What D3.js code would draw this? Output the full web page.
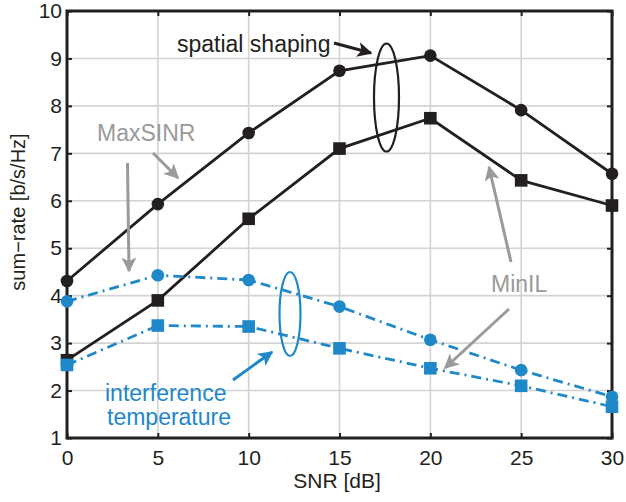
<!DOCTYPE html>
<html>
<head>
<meta charset="utf-8">
<script src="https://cdn.jsdelivr.net/npm/d3@7"></script>
<style>
  body { margin: 0; background: #fff; }
  text { font-family: Arial, "Liberation Sans", sans-serif; }
</style>
</head>
<body>
<div id="chart"></div>
<script>
// Data
const snr = [0, 5, 10, 15, 20, 25, 30];
const spatialCircle = [4.31, 5.93, 7.43, 8.74, 9.06, 7.91, 6.57];
const spatialSquare = [2.64, 3.90, 5.62, 7.10, 7.74, 6.43, 5.90];
const interfCircle = [3.88, 4.43, 4.33, 3.77, 3.07, 2.43, 1.87];
const interfSquare = [2.54, 3.37, 3.35, 2.89, 2.47, 2.10, 1.66];
const xTicks = [0, 5, 10, 15, 20, 25, 30];
const yTicks = [1, 2, 3, 4, 5, 6, 7, 8, 9, 10];

const width = 626;
const height = 502;
const margin = { top: 11, right: 14, bottom: 64, left: 67 };

const black = "#231f20";
const blue = "#1f88c9";
const gray = "#9a9a9a";

const svg = d3.select("#chart").append("svg")
    .attr("width", width)
    .attr("height", height);

const x = d3.scaleLinear().domain([0, 30]).range([margin.left, width - margin.right]);
const y = d3.scaleLinear().domain([1, 10]).range([height - margin.bottom, margin.top]);

// arrow markers
const defs = svg.append("defs");
function marker(id, color) {
    defs.append("marker")
        .attr("id", id)
        .attr("viewBox", "0 0 10 10")
        .attr("refX", 9).attr("refY", 5)
        .attr("markerWidth", 5).attr("markerHeight", 5)
        .attr("markerUnits", "strokeWidth")
        .attr("orient", "auto")
        .append("path")
        .attr("d", "M0,0 L10,5 L0,10 L2.5,5 Z")
        .attr("fill", color);
}
marker("arrBlack", black);
marker("arrBlue", blue);
marker("arrGray", gray);

// grid
const grid = svg.append("g");
grid.selectAll(".gx").data(xTicks).join("line")
    .attr("x1", d => x(d)).attr("x2", d => x(d))
    .attr("y1", y(1)).attr("y2", y(10))
    .attr("stroke", "#d3d3d3").attr("stroke-width", 1.6);
grid.selectAll(".gy").data(yTicks).join("line")
    .attr("x1", x(0)).attr("x2", x(30))
    .attr("y1", d => y(d)).attr("y2", d => y(d))
    .attr("stroke", "#d3d3d3").attr("stroke-width", 1.6);

// axes
svg.append("g")
    .attr("transform", `translate(0,${y(1)})`)
    .call(d3.axisBottom(x).tickValues(xTicks).tickSize(-5).tickPadding(12));
svg.append("g")
    .attr("transform", `translate(${x(0)},0)`)
    .call(d3.axisLeft(y).tickValues(yTicks).tickSize(-5).tickPadding(5));
svg.append("g")
    .attr("transform", `translate(0,${y(10)})`)
    .call(d3.axisTop(x).tickValues(xTicks).tickSize(-5).tickFormat(""));
svg.append("g")
    .attr("transform", `translate(${x(30)},0)`)
    .call(d3.axisRight(y).tickValues(yTicks).tickSize(-5).tickFormat(""));

svg.selectAll(".domain").remove();
svg.selectAll(".tick line").attr("stroke", black).attr("stroke-width", 2);
svg.selectAll(".tick text").attr("font-size", 21).attr("fill", black);

// frame
svg.append("rect")
    .attr("x", x(0)).attr("y", y(10))
    .attr("width", x(30) - x(0)).attr("height", y(1) - y(10))
    .attr("fill", "none").attr("stroke", black).attr("stroke-width", 3);

// axis labels
svg.append("text")
    .attr("x", 337).attr("y", 488)
    .attr("text-anchor", "middle").attr("font-size", 21).attr("fill", black)
    .text("SNR [dB]");
svg.append("text")
    .attr("transform", `translate(25,212) rotate(-90)`)
    .attr("text-anchor", "middle").attr("font-size", 20).attr("fill", black)
    .text("sum\u2212rate [b/s/Hz]");

// series
const series = [
    { vals: spatialCircle, color: black, shape: "circle", dash: null },
    { vals: spatialSquare, color: black, shape: "square", dash: null },
    { vals: interfCircle, color: blue, shape: "circle", dash: "10,5,2,5" },
    { vals: interfSquare, color: blue, shape: "square", dash: "10,5,2,5" }
];
const line = d3.line().x((d, i) => x(snr[i])).y(d => y(d));

series.forEach(s => {
    svg.append("path")
        .datum(s.vals)
        .attr("d", line)
        .attr("fill", "none")
        .attr("stroke", s.color)
        .attr("stroke-width", 2.8)
        .attr("stroke-dasharray", s.dash);
    if (s.shape === "circle") {
        svg.selectAll(null).data(s.vals).join("circle")
            .attr("cx", (d, i) => x(snr[i])).attr("cy", d => y(d))
            .attr("r", 6.3).attr("fill", s.color);
    } else {
        svg.selectAll(null).data(s.vals).join("rect")
            .attr("x", (d, i) => x(snr[i]) - 6.3).attr("y", d => y(d) - 6.3)
            .attr("width", 12.6).attr("height", 12.6).attr("fill", s.color);
    }
});

// annotations
function arrow(x1, y1, x2, y2, color, id) {
    svg.append("line")
        .attr("x1", x1).attr("y1", y1).attr("x2", x2).attr("y2", y2)
        .attr("stroke", color).attr("stroke-width", 3)
        .attr("marker-end", `url(#${id})`);
}

svg.append("text")
    .attr("x", 177).attr("y", 52).attr("font-size", 23).attr("fill", black)
    .text("spatial shaping");
arrow(334, 43, 371, 53, black, "arrBlack");
svg.append("ellipse")
    .attr("cx", 386.5).attr("cy", 97.5).attr("rx", 12.5).attr("ry", 54)
    .attr("fill", "none").attr("stroke", black).attr("stroke-width", 2.2);

svg.append("text")
    .attr("x", 97).attr("y", 141).attr("font-size", 23).attr("fill", gray)
    .text("MaxSINR");
arrow(153, 153, 178, 178, gray, "arrGray");
arrow(127.5, 163, 129, 271, gray, "arrGray");

svg.append("text")
    .attr("x", 491).attr("y", 292).attr("font-size", 23).attr("fill", gray)
    .text("MinIL");
arrow(511, 262, 489, 167, gray, "arrGray");
arrow(509, 309, 445, 368, gray, "arrGray");

svg.append("ellipse")
    .attr("cx", 290).attr("cy", 314).attr("rx", 10.5).attr("ry", 42)
    .attr("fill", "none").attr("stroke", blue).attr("stroke-width", 2.2);
arrow(233, 380, 272, 352, blue, "arrBlue");
svg.append("text")
    .attr("x", 105).attr("y", 401).attr("font-size", 23).attr("fill", blue)
    .text("interference");
svg.append("text")
    .attr("x", 107).attr("y", 425).attr("font-size", 23).attr("fill", blue)
    .text("temperature");
</script>
</body>
</html>
